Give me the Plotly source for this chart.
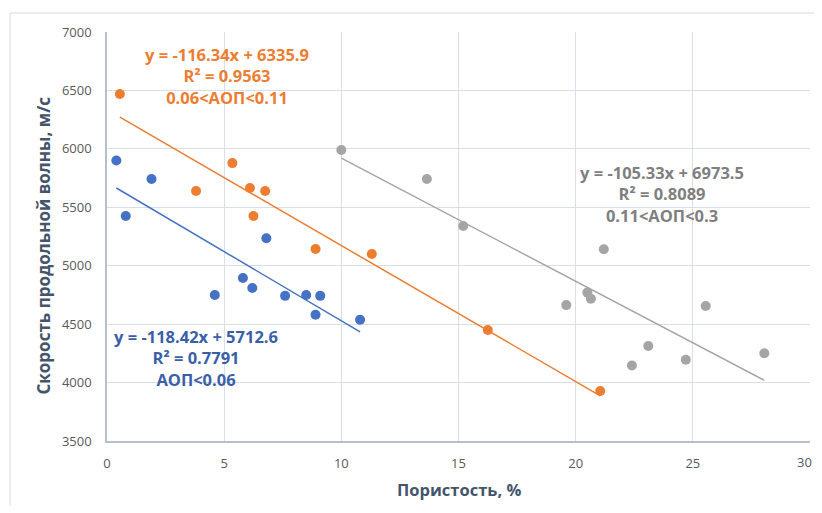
import plotly.graph_objects as go

# Data
blue_x = [0.4, 0.8, 1.9, 4.6, 5.8, 6.2, 6.8, 7.6, 8.5, 8.9, 9.1, 10.8]
blue_y = [5900, 5425, 5742, 4750, 4895, 4810, 5235, 4742, 4750, 4580, 4742, 4537]
orange_x = [0.55, 3.8, 5.35, 6.1, 6.25, 6.75, 8.9, 11.3, 16.25, 21.05]
orange_y = [6470, 5640, 5878, 5665, 5425, 5640, 5143, 5100, 4450, 3928]
gray_x = [10.0, 13.65, 15.2, 19.6, 20.5, 20.65, 21.2, 22.4, 23.1, 24.7, 25.55, 28.05]
gray_y = [5990, 5742, 5340, 4663, 4770, 4717, 5141, 4146, 4313, 4195, 4655, 4251]

fits = {
    "blue": (-118.42, 5712.6),
    "orange": (-116.34, 6335.9),
    "gray": (-105.33, 6973.5),
}
labels = {
    "blue": ["y = -118.42x + 5712.6", "R² = 0.7791", "АОП<0.06"],
    "orange": ["y = -116.34x + 6335.9", "R² = 0.9563", "0.06<АОП<0.11"],
    "gray": ["y = -105.33x + 6973.5", "R² = 0.8089", "0.11<АОП<0.3"],
}
x_ticks = [0, 5, 10, 15, 20, 25, 30]
x_tick_labels = ["0", "5", "10", "15", "20", "25", "30"]
y_ticks = [3500, 4000, 4500, 5000, 5500, 6000, 6500, 7000]

colors = {"blue": "#4472C4", "orange": "#ED7D31", "gray": "#A5A5A5"}
text_colors = {"blue": "#3A5FA8", "orange": "#ED7D31", "gray": "#7F7F7F"}
FONT = "Open Sans"
TICKFONT = dict(family=FONT, size=13, color="#595959")

fig = go.Figure()
series = {"blue": (blue_x, blue_y), "orange": (orange_x, orange_y), "gray": (gray_x, gray_y)}
for key, (xs, ys) in series.items():
    k, b = fits[key]
    x0, x1 = min(xs), max(xs)
    fig.add_trace(go.Scatter(x=[x0, x1], y=[k * x0 + b, k * x1 + b], mode="lines",
                             line=dict(color=colors[key], width=1.5), showlegend=False,
                             hoverinfo="skip"))
for key, (xs, ys) in series.items():
    fig.add_trace(go.Scatter(x=xs, y=ys, mode="markers",
                             marker=dict(color=colors[key], size=10), showlegend=False))

# Label positions (data coords, centre of the middle line)
label_pos = {"orange": (5.13, 6624), "blue": (3.79, 4211), "gray": (23.68, 5614)}
for key, (lx, ly) in label_pos.items():
    fig.add_annotation(x=lx, y=ly, xref="x", yref="y",
                       text="<br>".join("<b>%s</b>" % s for s in labels[key]), showarrow=False,
                       font=dict(family=FONT, size=16.5, color=text_colors[key]),
                       align="center", yanchor="middle", xanchor="center")

# last x tick label drawn as annotation so it stays inside the visible page
fig.add_annotation(x=x_ticks[-1], y=-0.0513, xref="x", yref="paper", text=x_tick_labels[-1],
                   showarrow=False, font=TICKFONT, xanchor="right", xshift=4,
                   yanchor="middle")

fig.add_annotation(x=0.5, y=-0.118, xref="paper", yref="paper", text="<b>Пористость, %</b>",
                   showarrow=False, font=dict(family=FONT, size=16.5, color="#44546A"),
                   yanchor="middle")
fig.add_annotation(x=-0.091, y=0.478, xref="paper", yref="paper",
                   text="<b>Скорость продольной волны, м/с</b>", textangle=-90,
                   showarrow=False, font=dict(family=FONT, size=17, color="#44546A"),
                   xanchor="center")

fig.add_shape(type="rect", xref="paper", yref="paper", x0=-0.138, x1=1.2, y0=-0.4, y1=1.0465,
              line=dict(color="#D9D9D9", width=1), layer="below")

fig.update_xaxes(range=[0, 30], tickvals=x_ticks, ticktext=x_tick_labels[:-1] + [""],
                 showgrid=True, gridcolor="#D9DFEA",
                 gridwidth=1, zeroline=False, showline=True, linecolor="#B4BFD0", linewidth=1.5,
                 tickfont=TICKFONT, ticks="",
                 ticklabelstandoff=10, automargin=False)
fig.update_yaxes(range=[3500, 7000], tickvals=y_ticks, showgrid=True, gridcolor="#D9DFEA",
                 gridwidth=1, zeroline=False, showline=True, linecolor="#B4BFD0", linewidth=1.5,
                 tickfont=TICKFONT, ticks="",
                 ticklabelstandoff=11, automargin=False)
fig.update_layout(width=810, height=497, margin=dict(l=99, r=8, t=24, b=64),
                  plot_bgcolor="white", paper_bgcolor="white", showlegend=False)

fig.write_html("out.html")
